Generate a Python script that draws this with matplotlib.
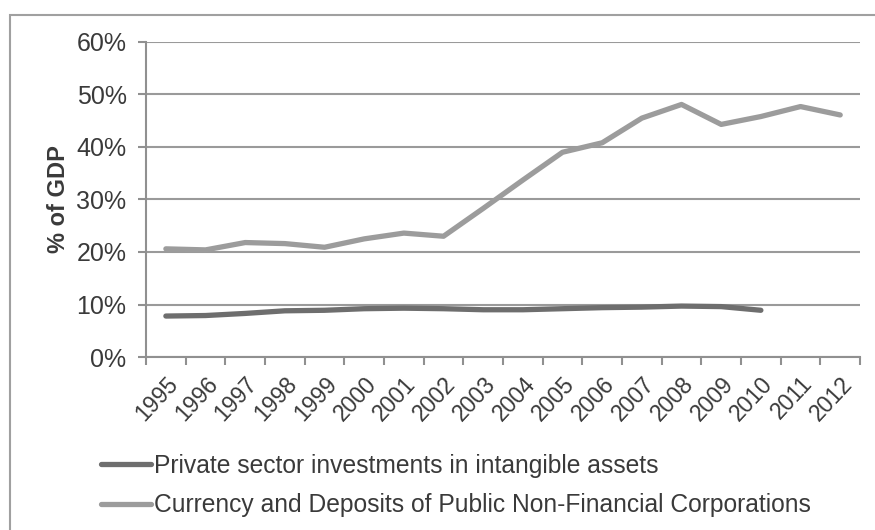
import numpy as np
import matplotlib.pyplot as plt
from matplotlib.patches import Rectangle

plt.rcParams['font.family'] = ['Liberation Sans', 'DejaVu Sans']

years = [str(y) for y in range(1995, 2013)]
currency = [20.6, 20.4, 21.8, 21.6, 20.9, 22.5, 23.6, 23.0, 28.3, 33.7,
            39.0, 40.8, 45.5, 48.1, 44.3, 45.8, 47.7, 46.1]
private = [7.8, 7.9, 8.3, 8.8, 8.9, 9.2, 9.3, 9.2, 9.0, 9.0,
           9.2, 9.4, 9.5, 9.7, 9.6, 8.9]
yticks = [0, 10, 20, 30, 40, 50, 60]

fig = plt.figure(figsize=(8.75, 5.3), dpi=100)
ax = fig.add_axes([0.1669, 0.3264, 0.816, 0.5944])

# outer chart frame
fig.patches.append(Rectangle((10/875, -0.2), 1.2, 1.2 - 15/530,
                             transform=fig.transFigure, fill=False,
                             edgecolor='#a0a0a0', lw=1.5))

x = np.arange(len(years))
ax.plot(x[:len(private)], private, color='#6e6e6e', lw=3.8,
        solid_capstyle='round', label='Private sector investments in intangible assets')
ax.plot(x, currency, color='#9c9c9c', lw=3.8,
        solid_capstyle='round', label='Currency and Deposits of Public Non-Financial Corporations')

ax.set_xlim(-0.5, len(years) - 0.5)
ax.set_ylim(0, 60)
ax.set_yticks(yticks)
ax.set_yticklabels([f'{v}%' for v in yticks], fontsize=18, color='#3a3a3a')
ax.set_xticks(x)
ax.set_xticklabels(years, rotation=47, ha='right', rotation_mode='anchor',
                   fontsize=16.5, color='#3a3a3a')
ax.set_xticks(np.arange(-0.5, len(years)), minor=True)
ax.tick_params(axis='x', which='major', length=0, pad=11)
ax.tick_params(axis='x', which='minor', length=6, color='#909090', width=1.5)
ax.tick_params(axis='y', length=6, color='#909090', width=1.5, pad=8)
ax.grid(axis='y', color='#9a9a9a', lw=1.5)
ax.set_axisbelow(True)
for s in ['top', 'right']:
    ax.spines[s].set_visible(False)
for s in ['left', 'bottom']:
    ax.spines[s].set_color('#909090')
    ax.spines[s].set_linewidth(1.5)
ax.set_ylabel('% of GDP', fontsize=17, fontweight='bold', color='#3a3a3a', labelpad=5)

fig.legend(loc='upper left', bbox_to_anchor=(0.104, 0.162), frameon=False,
           fontsize=17.7, handlelength=2.05, handletextpad=0.12,
           labelspacing=0.62, borderaxespad=0, labelcolor='#3a3a3a')

fig.savefig('out.png', dpi=100)
